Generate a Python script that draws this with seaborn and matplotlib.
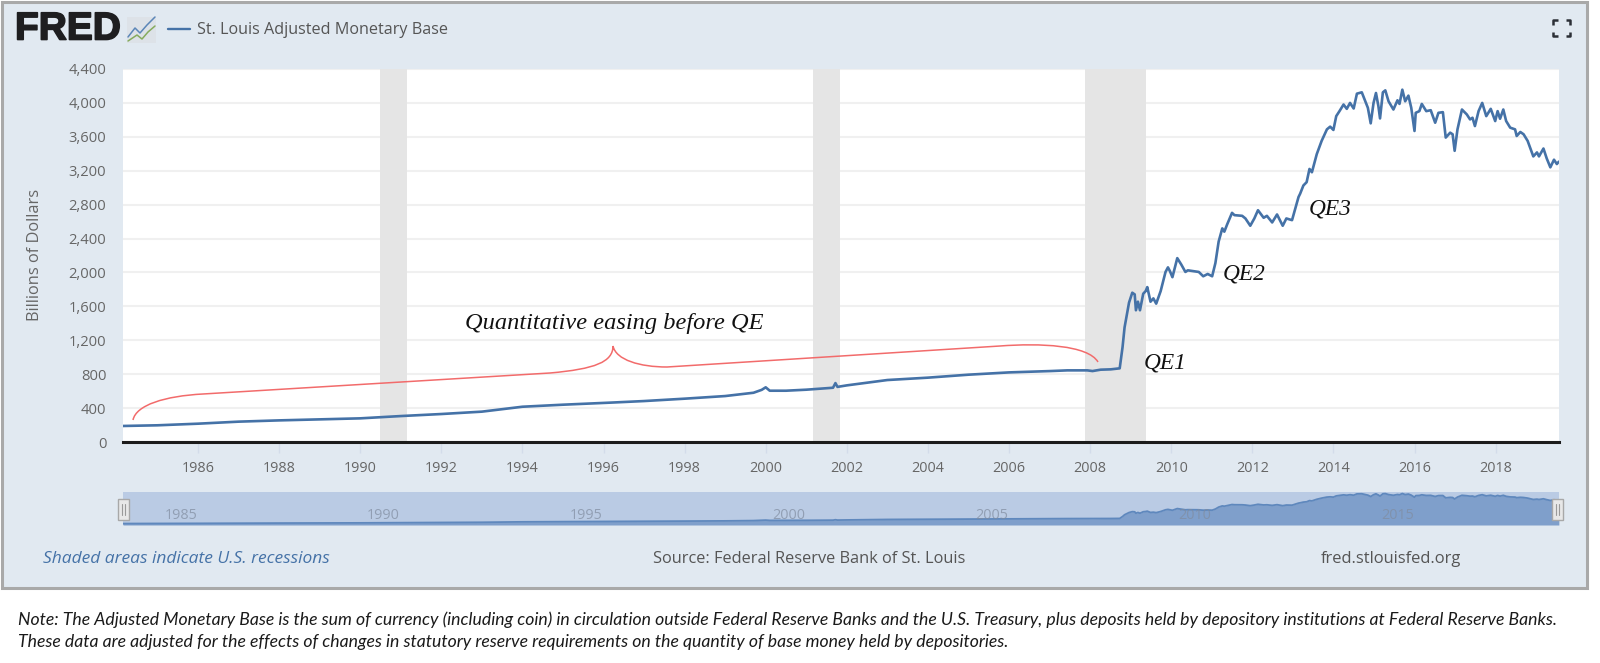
import matplotlib
matplotlib.use("Agg")
import matplotlib.pyplot as plt
import matplotlib.patheffects as pe
import seaborn as sns
from matplotlib.path import Path
from matplotlib.patches import PathPatch, Rectangle

# series (year, billions of dollars)
years = [
    1984.15, 1985, 1986, 1987, 1988, 1989, 1990, 1991, 1992, 1993, 1994, 1995, 1996, 1996.2,
    1997, 1998, 1999, 1999.7, 1999.9, 2000.0, 2000.1, 2000.5, 2001, 2001.66, 2001.72, 2001.77, 2002,
    2003, 2004, 2005, 2006, 2007.03, 2007.44, 2007.93, 2008.06, 2008.26, 2008.51, 2008.73,
    2008.80, 2008.85, 2008.90, 2008.96, 2009.04, 2009.10, 2009.13, 2009.18, 2009.23, 2009.31,
    2009.37, 2009.41, 2009.49, 2009.56, 2009.63, 2009.74, 2009.86, 2009.92, 2009.97, 2010.03,
    2010.15, 2010.25, 2010.35, 2010.41, 2010.56, 2010.68, 2010.79, 2010.90, 2011.01, 2011.09,
    2011.17, 2011.26, 2011.31, 2011.38, 2011.50, 2011.56, 2011.75, 2011.83, 2011.95, 2012.05,
    2012.14, 2012.28, 2012.36, 2012.49, 2012.61, 2012.75, 2012.84, 2012.98, 2013.06, 2013.14,
    2013.18, 2013.26, 2013.34, 2013.41, 2013.47, 2013.59, 2013.71, 2013.84, 2013.92, 2014.00,
    2014.07, 2014.15, 2014.25, 2014.33, 2014.41, 2014.50, 2014.58, 2014.70, 2014.77, 2014.85,
    2014.92, 2014.99, 2015.05, 2015.11, 2015.15, 2015.22, 2015.28, 2015.36, 2015.48, 2015.58,
    2015.63, 2015.70, 2015.77, 2015.85, 2015.92, 2016.00, 2016.03, 2016.12, 2016.18, 2016.29,
    2016.40, 2016.51, 2016.59, 2016.70, 2016.77, 2016.88, 2016.94, 2016.99, 2017.06, 2017.17,
    2017.29, 2017.37, 2017.43, 2017.49, 2017.58, 2017.67, 2017.77, 2017.88, 2017.99, 2018.05,
    2018.11, 2018.19, 2018.26, 2018.36, 2018.48, 2018.52, 2018.61, 2018.69, 2018.79, 2018.93,
    2019.02, 2019.07, 2019.18, 2019.26, 2019.35, 2019.44, 2019.51, 2019.56,
]
base = [
    189, 197, 216, 240, 255, 267, 279, 306, 330, 358, 416, 440, 460, 465,
    483, 511, 542, 581, 615, 645, 605, 605, 617, 640, 695, 650, 668,
    731, 759, 794, 821, 837, 845, 845, 837, 853, 857, 869,
    1118, 1352, 1488, 1644, 1761, 1741, 1554, 1655, 1554, 1749,
    1780, 1827, 1655, 1694, 1632, 1780, 2006, 2060, 2014, 1944,
    2169, 2092, 2006, 2025, 2014, 2006, 1955, 1982, 1955, 2111,
    2364, 2520, 2481, 2567, 2703, 2676, 2668, 2637, 2551, 2637,
    2734, 2645, 2668, 2590, 2684, 2551, 2637, 2617, 2754, 2890,
    2929, 3026, 3065, 3221, 3182, 3396, 3552, 3688, 3720, 3681,
    3844, 3903, 3981, 3930, 4000, 3934, 4109, 4125, 4039, 3942,
    3759, 4000, 4117, 3961, 3817, 4125, 4148, 4019, 3922, 4031,
    3988, 4156, 4019, 4086, 3942, 3669, 3883, 3903, 3988, 3903,
    3914, 3766, 3883, 3891, 3591, 3649, 3630, 3435, 3688, 3922,
    3864, 3805, 3825, 3727, 3903, 4000, 3844, 3930, 3786, 3903,
    3813, 3922, 3786, 3708, 3688, 3610, 3657, 3630, 3552, 3369,
    3416, 3369, 3462, 3346, 3240, 3330, 3279, 3307,
]
recessions = [(1990.5, 1991.15), (2001.17, 2001.83), (2007.88, 2009.38)]
y_ticks = [0, 400, 800, 1200, 1600, 2000, 2400, 2800, 3200, 3600, 4000, 4400]
x_ticks = list(range(1986, 2020, 2))
slider_labels = [1985, 1990, 1995, 2000, 2005, 2010, 2015]
qe_labels = [("QE1", 1144, 363), ("QE2", 1223, 274), ("QE3", 1309, 209)]

note1 = ("Note: The Adjusted Monetary Base is the sum of currency (including coin) in circulation outside "
         "Federal Reserve Banks and the U.S. Treasury, plus deposits held by depository institutions at Federal Reserve Banks.")
note2 = ("These data are adjusted for the effects of changes in statutory reserve requirements on the "
         "quantity of base money held by depositories.")

W, H = 1600, 663
LINE = "#4572a7"
GREY = "#666666"
UI = "Open Sans"

sns.set_theme(style="whitegrid")
fig = plt.figure(figsize=(W / 100, H / 100), dpi=100, facecolor="white")


def pixel_axes(z):
    a = fig.add_axes([0, 0, 1, 1], zorder=z)
    a.set_xlim(0, W)
    a.set_ylim(H, 0)
    a.axis("off")
    a.patch.set_alpha(0)
    return a


def box(left, top, right, bottom):
    return [left / W, 1 - bottom / H, (right - left) / W, (bottom - top) / H]


back = pixel_axes(0)
back.add_patch(Rectangle((1.5, 1.5), 1585, 586.5, fc="#e1e9f1", ec="#a9a9a9", lw=2.2))

# main chart
x0 = 1986 + (123 - 198) / 40.55
x1 = 1986 + (1559 - 198) / 40.55
ax = fig.add_axes(box(123, 69, 1559, 442), zorder=1)
ax.set_facecolor("white")
ax.grid(axis="y", color="#f0f0f0", lw=1.5)
ax.grid(axis="x", visible=False)
ax.set_axisbelow(True)
for start, end in recessions:
    ax.axvspan(start, end, color="#e5e5e5", lw=0, zorder=1)
sns.lineplot(x=years, y=base, ax=ax, color=LINE, lw=1.9, zorder=3)
ax.set_xlim(x0, x1)
ax.set_ylim(0, 4400)
ax.set_yticks(y_ticks)
ax.set_yticklabels([f"{v:,}" for v in y_ticks], family=UI, fontsize=10.6, color=GREY)
ax.set_xticks(x_ticks)
ax.set_xticklabels(x_ticks, family=UI, fontsize=10.4, color=GREY)
ax.tick_params(axis="y", length=0, pad=12)
ax.tick_params(axis="x", length=8, width=1, color="#d3dcea", pad=6, bottom=True)
for name in ["top", "left", "right"]:
    ax.spines[name].set_visible(False)
ax.spines["bottom"].set_color("#1c1c1c")
ax.spines["bottom"].set_linewidth(2.2)
ax.set_ylabel("")
ax.set_xlabel("")

# range slider under the chart
nav = fig.add_axes(box(123, 492, 1559, 525), zorder=1)
nav.set_facecolor("#bacbe4")
nav.grid(False)
sns.lineplot(x=years, y=base, ax=nav, color="#5f88bd", lw=1.3, zorder=3)
nav.fill_between(years, base, color="#7f9fcb", lw=0, zorder=2)
nav.set_xlim(x0, x1)
nav.set_ylim(0, 4360)
nav.set_xticks([])
nav.set_yticks([])
nav.set_xlabel("")
nav.set_ylabel("")
for spine in nav.spines.values():
    spine.set_visible(False)
for yr in slider_labels:
    nav.annotate(str(yr), (yr, 0), xytext=(5, 7), textcoords="offset points", family=UI, fontsize=10.4,
                 color="#808c9f", alpha=0.7, ha="left", va="center", zorder=4)

# everything placed by pixel: logo, legend, notes, hand-drawn marks
top = pixel_axes(5)
top.text(15, 29.5, "FRED", family="Liberation Sans", fontweight="bold", fontsize=28, color="#1e1e20",
         ha="left", va="center", path_effects=[pe.withStroke(linewidth=1.2, foreground="#1e1e20")])
top.add_patch(Rectangle((127, 17), 29, 26, fc="#dde2e8", ec="none"))
top.plot([128, 135, 140, 147, 155], [37, 28, 33, 25, 17], color="#5b86b8", lw=1.1)
top.plot([128, 137, 142, 148, 155], [41, 35, 39, 32, 26], color="#86ab5e", lw=1.1)
top.plot([168, 190], [29, 29], color=LINE, lw=1.7)
top.text(197, 30.5, "St. Louis Adjusted Monetary Base", family=UI, fontsize=11.65, color="#555555", ha="left", va="center")
top.text(35, 255, "Billions of Dollars", family=UI, fontsize=11.8, color=GREY, rotation=90, ha="center", va="center")

# fullscreen icon
for cx, cy, dx, dy in [(1553, 20, 1, 1), (1570, 20, -1, 1), (1553, 36, 1, -1), (1570, 36, -1, -1)]:
    top.plot([cx + 4.5 * dx, cx, cx], [cy, cy, cy + 4.5 * dy], color="#2b2f36", lw=1.8, solid_capstyle="butt")

# slider handles
for hx in [123, 1557]:
    top.add_patch(Rectangle((hx - 5.5, 499), 11, 21, fc="#e8e8e8", ec="#a8a8a8", lw=1))
    top.plot([hx - 1.5, hx - 1.5], [504, 515], color="#9a9a9a", lw=0.8)
    top.plot([hx + 1.5, hx + 1.5], [504, 515], color="#9a9a9a", lw=0.8)

top.text(43, 559, "Shaded areas indicate U.S. recessions", family=UI, style="italic", fontsize=12.5, color=LINE,
         ha="left", va="center")
top.text(653, 559, "Source: Federal Reserve Bank of St. Louis", family=UI, fontsize=11.8, color="#555555",
         ha="left", va="center")
top.text(1321, 559, "fred.stlouisfed.org", family=UI, fontsize=11.9, color="#555555", ha="left", va="center")

# red brace
brace = Path(
    [(133, 420), (136, 405), (165, 396), (203, 394), (550, 373), (595, 369), (613, 362), (613, 346),
     (616, 360), (640, 367), (667, 367), (1000, 346), (1040, 343), (1088, 345), (1098, 362)],
    [Path.MOVETO, Path.CURVE4, Path.CURVE4, Path.CURVE4, Path.LINETO, Path.CURVE4, Path.CURVE4, Path.CURVE4,
     Path.CURVE4, Path.CURVE4, Path.CURVE4, Path.LINETO, Path.CURVE4, Path.CURVE4, Path.CURVE4],
)
top.add_patch(PathPatch(brace, fc="none", ec="#f26b6b", lw=1.1))

SERIF = "Liberation Serif"
top.text(465, 324, "Quantitative easing before QE", family=SERIF, style="italic", fontsize=17.6, color="#111111",
         ha="left", va="center")
for label, px, py in qe_labels:
    top.text(px, py, label, family=SERIF, style="italic", fontsize=16.8, color="#111111", ha="left", va="center")

top.text(18, 620, note1, family="Lato", style="italic", fontsize=12.68, color="#1a1a1a", ha="left", va="center")
top.text(18, 642, note2, family="Lato", style="italic", fontsize=12.68, color="#1a1a1a", ha="left", va="center")

fig.savefig("out.png", dpi=100)
